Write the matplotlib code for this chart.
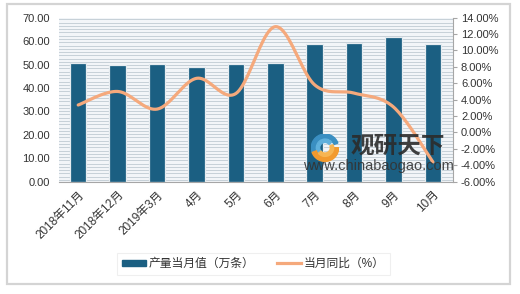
import numpy as np
import matplotlib.pyplot as plt
from matplotlib.patches import Rectangle, Wedge
from matplotlib.lines import Line2D

plt.rcParams['font.family'] = ['Liberation Sans', 'Noto Sans CJK SC']

# ── data ─────────────────────────────────────────────────────────────────────
months = ["2018年11月", "2018年12月", "2019年3月", "4月", "5月",
          "6月", "7月", "8月", "9月", "10月"]
output = [50.8, 49.7, 50.2, 49.1, 50.2, 50.8, 58.9, 59.2, 61.6, 58.9]   # 万条
yoy = [3.35, 5.0, 2.85, 6.6, 4.75, 12.9, 5.8, 4.8, 3.1, -3.6]          # %

BAR_COLOR = "#1b5f82"
LINE_COLOR = "#f5a97c"


def catmull_rom(x, y, n=24):
    """Smoothed line like Excel's 'smoothed line' option."""
    P = np.column_stack([x, y]).astype(float)
    P = np.vstack([P[0], P, P[-1]])
    t = np.linspace(0, 1, n)[:, None]
    out = []
    for i in range(1, len(P) - 2):
        p0, p1, p2, p3 = P[i - 1], P[i], P[i + 1], P[i + 2]
        seg = 0.5 * (2 * p1 + (-p0 + p2) * t
                     + (2 * p0 - 5 * p1 + 4 * p2 - p3) * t ** 2
                     + (-p0 + 3 * p1 - 3 * p2 + p3) * t ** 3)
        out.append(seg if i == 1 else seg[1:])
    out = np.vstack(out)
    return out[:, 0], out[:, 1]


fig = plt.figure(figsize=(5.2, 2.94), dpi=100)
fig.patch.set_facecolor("white")

# outer frame
fig.patches.append(Rectangle((0.013, 0.035), 0.968, 0.952, transform=fig.transFigure,
                             facecolor="none", edgecolor="#d4d4d4", lw=1.6, zorder=0))

ax = fig.add_axes([0.1125, 0.382, 0.758, 0.558])
ax.set_facecolor("#f2f5f8")
for yy in np.arange(0.7, 70, 1.4):
    ax.axhline(yy, color="#c6d0d8", lw=0.7, zorder=0)

x = np.arange(len(months))
ax.bar(x, output, width=0.42, color=BAR_COLOR, edgecolor="#e6ecf0", lw=0.9, zorder=2)
ax.set_xlim(-0.5, len(months) - 0.5)
ax.set_ylim(0, 70)
ax.set_yticks(np.arange(0, 71, 10))
ax.set_yticklabels([f"{v:.2f}" for v in np.arange(0, 71, 10)], fontsize=8, color="#333333")
ax.set_xticks(x)
ax.set_xticklabels(months, rotation=45, ha="right", va="top", rotation_mode="anchor",
                   fontsize=8.5, color="#333333")
ax.tick_params(axis="y", length=0, pad=6)
ax.tick_params(axis="x", length=0, pad=5)
for s in ["top", "left", "right"]:
    ax.spines[s].set_visible(False)
ax.spines["bottom"].set_color("#a6a6a6")

ax2 = ax.twinx()
sx, sy = catmull_rom(x, yoy)
ax2.plot(sx, sy, color=LINE_COLOR, lw=2.3, solid_capstyle="round", zorder=3)
ax2.set_ylim(-6, 14)
rt = np.arange(-6, 15, 2)
ax2.set_yticks(rt)
ax2.set_yticklabels([f"{v:.2f}%" for v in rt], fontsize=8, color="#333333")
ax2.tick_params(axis="y", length=3, color="#a6a6a6", pad=3)
for s in ["top", "left", "bottom"]:
    ax2.spines[s].set_visible(False)
ax2.spines["right"].set_color("#a6a6a6")

# watermark
fig.text(0.766, 0.503, "观研天下", fontsize=17, fontweight="bold", color="#2b2b2b",
         ha="center", va="center", alpha=0.9, zorder=5)
fig.text(0.727, 0.435, "www.chinabaogao.com", fontsize=10.5, color="#333333",
         ha="center", va="center", alpha=0.9, zorder=5)
lax = fig.add_axes([0.585, 0.45, 0.08, 0.095], zorder=5)
lax.set_aspect("equal")
lax.set_xlim(-1, 1)
lax.set_ylim(-1, 1)
lax.axis("off")
lax.add_patch(Wedge((0, 0), 0.98, 20, 200, width=0.3, color="#3a8fc2"))
lax.add_patch(Wedge((0, 0), 0.62, 40, 220, width=0.24, color="#5fb0dc"))
lax.add_patch(Wedge((0, 0), 0.98, 200, 360, width=0.32, color="#f29a2e"))
lax.add_patch(Wedge((0, 0), 0.62, 220, 380, width=0.24, color="#f7b552"))

# legend
handles = [Rectangle((0, 0), 1, 1, color=BAR_COLOR),
           Line2D([], [], color=LINE_COLOR, lw=2.3)]
leg = fig.legend(handles, ["产量当月值（万条）", "当月同比（%）"], loc="center",
                 bbox_to_anchor=(0.487, 0.102), ncol=2, fontsize=8.5, frameon=True,
                 handlelength=2.0, handleheight=0.45, columnspacing=1.9,
                 handletextpad=0.25, borderpad=0.45, fancybox=False)
leg.get_frame().set_edgecolor("#ececec")
leg.get_frame().set_linewidth(0.8)
for t in leg.get_texts():
    t.set_color("#333333")

fig.savefig("out.png", dpi=100)
